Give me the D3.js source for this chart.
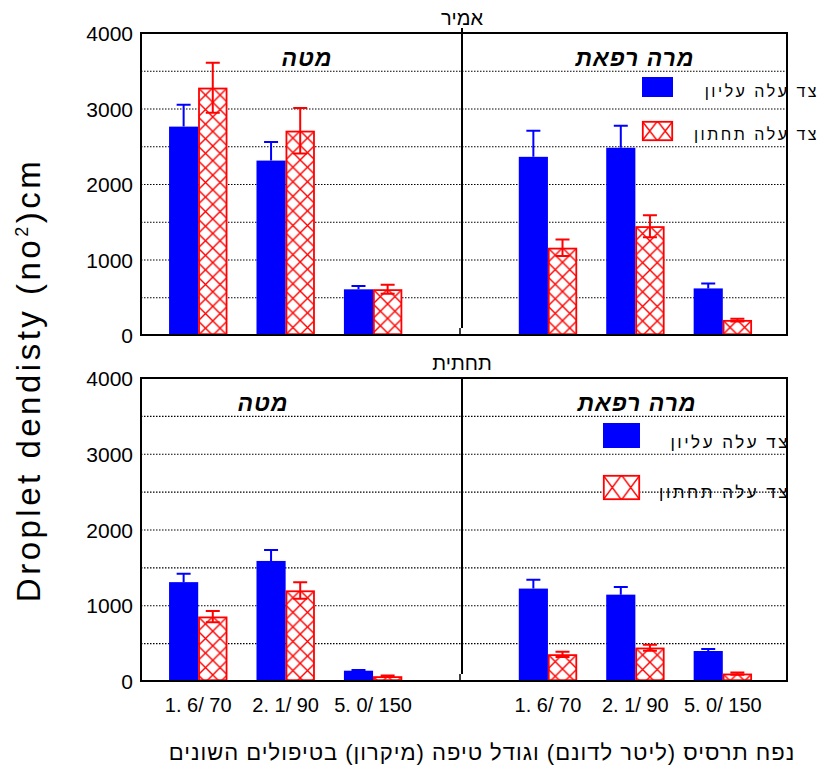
<!DOCTYPE html>
<html>
<head>
<meta charset="utf-8">
<script src="https://cdn.jsdelivr.net/npm/d3@7"></script>
<style>
  html, body { margin: 0; padding: 0; background: #fff; }
  svg { display: block; }
  text { font-family: "Liberation Sans", Arial, "DejaVu Sans", sans-serif; fill: #000; }
</style>
</head>
<body>
<svg id="chart" width="822" height="776"></svg>
<script>
// Treatments on the x axis (spray volume / droplet size), repeated for both sprayers
const categories = ["1. 6/ 70", "2. 1/ 90", "5. 0/ 150"];
const sprayers = ["מטה", "מרה רפאת"];
const panelTitles = ["אמיר", "תחתית"];
const seriesNames = ["צד עלה עליון", "צד עלה תחתון"];
const yTicks = [0, 1000, 2000, 3000, 4000];
const gridValues = [500, 1000, 1500, 2000, 2500, 3000, 3500];

// Droplet density; first three values = מטה, last three = מרה רפאת
const amirUpper    = [2760, 2310, 605, 2360, 2480, 617];
const amirUpperErr = [290, 245, 45, 345, 290, 65];
const amirLower    = [3275, 2705, 605, 1155, 1440, 198];
const amirLowerErr = [330, 300, 60, 110, 145, 18];

const bottomUpper    = [1305, 1585, 136, 1220, 1140, 396];
const bottomUpperErr = [110, 145, 10, 115, 100, 25];
const bottomLower    = [850, 1195, 62, 352, 440, 97];
const bottomLowerErr = [75, 110, 10, 35, 40, 15];

const BLUE = "#0000ff";
const RED = "#ff0000";

const svg = d3.select("#chart");
const defs = svg.append("defs");

const frameLeft = 141, frameRight = 787, divider = 462;

// slots 0-2 left sprayer, slot 3 empty, slots 4-6 right sprayer
const slotOf = i => (i < 3 ? i : i + 1);
const x = d3.scaleBand().domain(d3.range(7)).range([137, 784]).paddingOuter(0.2).paddingInner(0);
const barW = x.bandwidth() / 3;

const panels = [
  { title: panelTitles[0], top: 33, bottom: 335, upper: amirUpper, upperErr: amirUpperErr,
    lower: amirLower, lowerErr: amirLowerErr, titleY: 25, subX: [307, 635],
    legend: { rx: 642, ry: [77, 121], w: 31, h: 20, textX: 819, base: [97, 140], size: 16 } },
  { title: panelTitles[1], top: 378, bottom: 681, upper: bottomUpper, upperErr: bottomUpperErr,
    lower: bottomLower, lowerErr: bottomLowerErr, titleY: 370, subX: [263, 637],
    legend: { rx: 603, ry: [423, 475], w: 37, h: 25, textX: 790, base: [448, 498], size: 17 } }
];

let patId = 0;
function crossHatch(px, py, w, h) {
  const id = "hatch" + (patId++);
  const p = defs.append("pattern").attr("id", id).attr("patternUnits", "userSpaceOnUse")
    .attr("x", px).attr("y", py).attr("width", w).attr("height", h);
  p.append("rect").attr("width", w).attr("height", h).attr("fill", "#fff");
  p.append("path").attr("d", `M0,0L${w},${h}M${w},0L0,${h}`)
    .attr("stroke", RED).attr("stroke-width", 1.4).attr("fill", "none");
  return "url(#" + id + ")";
}

panels.forEach((pn, pi) => {
  const y = d3.scaleLinear().domain([0, 4000]).range([pn.bottom, pn.top]);
  const g = svg.append("g");

  // dotted gridlines
  g.selectAll("line.grid").data(gridValues).enter().append("line")
    .attr("x1", frameLeft).attr("x2", frameRight)
    .attr("y1", d => y(d) + 0.5).attr("y2", d => y(d) + 0.5)
    .attr("stroke", "#000").attr("stroke-width", 1.2).attr("stroke-dasharray", "1.5,1.5");

  // y axis labels
  const yAxis = d3.axisLeft(y).tickValues(yTicks).tickFormat(d3.format("d")).tickSize(0).tickPadding(8);
  const ag = g.append("g").attr("transform", `translate(${frameLeft},0)`).call(yAxis);
  ag.select(".domain").remove();
  ag.selectAll("text").style("font-size", "21px").attr("font-family", null)
    .attr("dy", "0.36em");

  // bars: upper leaf side (blue solid)
  g.selectAll("rect.up").data(pn.upper).enter().append("rect")
    .attr("x", (d, i) => x(slotOf(i)) + barW * 0.5)
    .attr("y", d => y(d)).attr("width", barW).attr("height", d => y(0) - y(d))
    .attr("fill", BLUE);

  // bars: lower leaf side (red cross-hatched)
  pn.lower.forEach((d, i) => {
    const bx = x(slotOf(i)) + barW * 1.5;
    g.append("rect").attr("x", bx + 0.8).attr("y", y(d) + 0.8)
      .attr("width", barW - 1.6).attr("height", Math.max(0, y(0) - y(d) - 1.6))
      .attr("fill", crossHatch(bx, y(d), barW / 2, barW / 2))
      .attr("stroke", RED).attr("stroke-width", 1.8);
  });

  // error bars
  const cap = 7;
  pn.upper.forEach((d, i) => {
    const cx = x(slotOf(i)) + barW;
    const e = pn.upperErr[i];
    g.append("path").attr("d", `M${cx},${y(d)}V${y(d + e)}M${cx - cap},${y(d + e)}H${cx + cap}`)
      .attr("stroke", BLUE).attr("stroke-width", 2).attr("fill", "none");
  });
  pn.lower.forEach((d, i) => {
    const cx = x(slotOf(i)) + barW * 2;
    const e = pn.lowerErr[i];
    g.append("path")
      .attr("d", `M${cx},${y(d - e)}V${y(d + e)}M${cx - cap},${y(d + e)}H${cx + cap}M${cx - cap},${y(d - e)}H${cx + cap}`)
      .attr("stroke", RED).attr("stroke-width", 2).attr("fill", "none");
  });

  // frame and divider
  g.append("rect").attr("x", frameLeft).attr("y", pn.top).attr("width", frameRight - frameLeft)
    .attr("height", pn.bottom - pn.top).attr("fill", "none").attr("stroke", "#000").attr("stroke-width", 2);
  g.append("line").attr("x1", divider).attr("x2", divider)
    .attr("y1", pi === 0 ? pn.top - 5 : pn.top).attr("y2", pn.bottom - 7)
    .attr("stroke", "#000").attr("stroke-width", 2);
  g.append("line").attr("x1", divider - 2).attr("x2", divider - 2)
    .attr("y1", pn.bottom - 7).attr("y2", pn.bottom)
    .attr("stroke", "#000").attr("stroke-width", 1.5);

  // panel title
  g.append("text").attr("x", divider).attr("y", pn.titleY).attr("text-anchor", "middle")
    .style("font-size", "20px").text(pn.title);

  // sprayer subtitles
  sprayers.forEach((s, k) => {
    g.append("text").attr("x", pn.subX[k]).attr("y", pn.top + 33).attr("text-anchor", "middle")
      .style("font-size", "23px").style("font-style", "italic").style("font-weight", "bold")
      .style("letter-spacing", "1px").text(s);
  });

  // legend
  const L = pn.legend;
  g.append("rect").attr("x", L.rx).attr("y", L.ry[0]).attr("width", L.w).attr("height", L.h).attr("fill", BLUE);
  g.append("rect").attr("x", L.rx + 0.8).attr("y", L.ry[1] + 0.8).attr("width", L.w - 1.6).attr("height", L.h - 1.6)
    .attr("fill", crossHatch(L.rx, L.ry[1], L.w / 2, L.h)).attr("stroke", RED).attr("stroke-width", 1.8);
  seriesNames.forEach((s, k) => {
    g.append("text").attr("x", L.textX).attr("y", L.base[k]).attr("text-anchor", "end")
      .style("font-size", L.size + "px").style("letter-spacing", "2.5px").text(s);
  });
});

// x tick labels, beneath the bottom panel
const xLabels = d3.range(6).map(i => ({ slot: slotOf(i), label: categories[i % 3] }));
svg.selectAll("text.xt").data(xLabels).enter().append("text")
  .attr("x", d => x(d.slot) + x.bandwidth() / 2).attr("y", 712).attr("text-anchor", "middle")
  .style("font-size", "20px").text(d => d.label);

// x axis title
svg.append("text").attr("x", 482).attr("y", 760).attr("text-anchor", "middle")
  .style("font-size", "22px").style("letter-spacing", "1px")
  .text("נפח תרסיס (ליטר לדונם) וגודל טיפה (מיקרון) בטיפולים השונים");

// y axis title
const yt = svg.append("text").attr("transform", "translate(40,380) rotate(-90)")
  .attr("text-anchor", "middle").style("font-size", "33px").style("letter-spacing", "3.5px");
yt.append("tspan").text("Droplet dendisty  (no");
yt.append("tspan").attr("dy", -12).style("font-size", "18px").text("2");
yt.append("tspan").attr("dy", 12).text(")cm");
</script>
</body>
</html>
